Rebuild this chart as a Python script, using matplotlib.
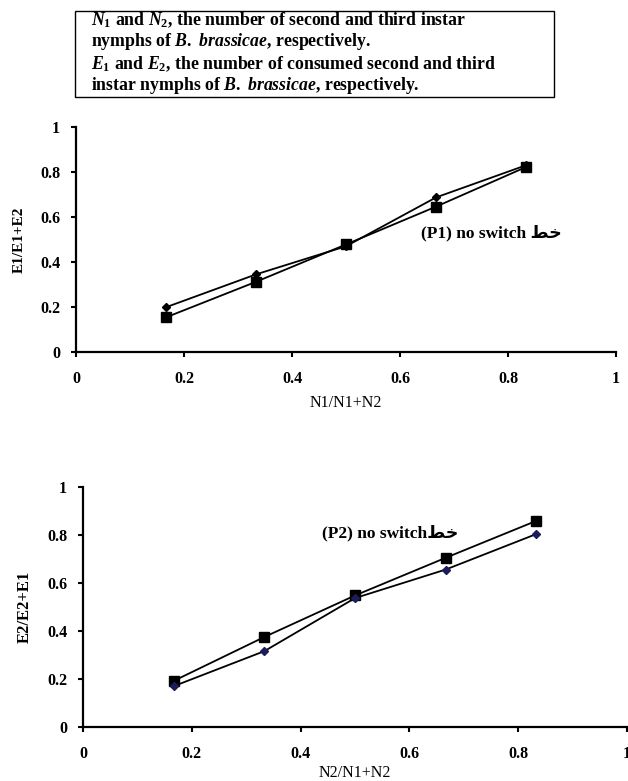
import matplotlib
matplotlib.use("Agg")
import matplotlib.pyplot as plt
from matplotlib.patches import Rectangle

# proportions offered (x) and consumed (y)
x_vals = [1/6, 1/3, 0.5, 2/3, 5/6]
p1_diamond = [0.199, 0.345, 0.470, 0.687, 0.830]
p1_square = [0.154, 0.312, 0.478, 0.646, 0.822]
p2_square = [0.192, 0.375, 0.548, 0.705, 0.859]
p2_diamond = [0.170, 0.316, 0.537, 0.656, 0.804]

ticks = [0, 0.2, 0.4, 0.6, 0.8, 1]
tick_labels = ["0", "0.2", "0.4", "0.6", "0.8", "1"]

serif = "Liberation Serif"
plt.rcParams["font.family"] = [serif, "DejaVu Sans"]
plt.rcParams["font.weight"] = "bold"
plt.rcParams["mathtext.fontset"] = "custom"
plt.rcParams["mathtext.rm"] = "Liberation Serif:bold"
plt.rcParams["mathtext.bf"] = "Liberation Serif:bold"
plt.rcParams["mathtext.it"] = "Liberation Serif:italic:bold"

fig = plt.figure(figsize=(6.28, 7.81), dpi=100)

# legend box at the top
fig.patches.append(Rectangle((75/628, 1 - 97/781), (554 - 75)/628, 86/781,
                             transform=fig.transFigure, fill=False,
                             edgecolor="black", linewidth=1.0))
box_lines = [
    r"$N_1$ and $N_2$, the number of second and third instar",
    r"nymphs of $B.\ brassicae$, respectively.",
    r"$E_1$ and $E_2$, the number of consumed second and third",
    r"instar nymphs of $B.\ brassicae$, respectively.",
]
for i, line in enumerate(box_lines):
    fig.text(91/628, 1 - (20 + i*22)/781, line, fontsize=12.8,
             fontweight="bold", va="center", ha="left")

arabic = "\uFEC2\uFEA7"  # خط, shaped


def style_axes(ax, xlabel, ylabel, xpad, ysize):
    ax.set_xlim(0, 1)
    ax.set_ylim(0, 1)
    ax.set_xticks(ticks)
    ax.set_xticklabels(tick_labels)
    ax.set_yticks(ticks)
    ax.set_yticklabels(tick_labels)
    ax.spines["top"].set_visible(False)
    ax.spines["right"].set_visible(False)
    ax.spines["left"].set_linewidth(1.6)
    ax.spines["bottom"].set_linewidth(1.6)
    ax.tick_params(direction="out", length=3.5, width=1.5, labelsize=11.5)
    ax.tick_params(axis="x", pad=10)
    ax.tick_params(axis="y", pad=8)
    for lab in ax.get_xticklabels() + ax.get_yticklabels():
        lab.set_fontweight("bold")
    ax.set_xlabel(xlabel, fontsize=11.5, fontweight="normal", labelpad=xpad)
    ax.set_ylabel(ylabel, fontsize=ysize, fontweight="bold", labelpad=10)


# top panel
ax1 = fig.add_axes([76/628, 1 - 352/781, 540/628, 225/781])
ax1.plot(x_vals, p1_diamond, color="black", lw=1.3, marker="D", ms=4.5)
ax1.plot(x_vals, p1_square, color="black", lw=1.3, marker="s", ms=7)
ax1.text(0.638, 0.53, "(P1) no switch " + arabic, fontsize=12.5,
         fontweight="bold", va="center", ha="left")
style_axes(ax1, "N1/N1+N2", "E1/E1+E2", 6, 11)

# bottom panel
ax2 = fig.add_axes([83/628, 1 - 727/781, 544/628, 240/781])
ax2.plot(x_vals, p2_square, color="black", lw=1.3, marker="s", ms=7)
ax2.plot(x_vals, p2_diamond, color="black", lw=1.3, marker="D", ms=4.5,
         markerfacecolor="#1c1c5a", markeredgecolor="#1c1c5a")
ax2.text(0.44, 0.808, "(P2) no switch" + arabic, fontsize=12.5,
         fontweight="bold", va="center", ha="left")
style_axes(ax2, "N2/N1+N2", "E2/E2+E1", 2, 12)

fig.savefig("out.png", dpi=100)
